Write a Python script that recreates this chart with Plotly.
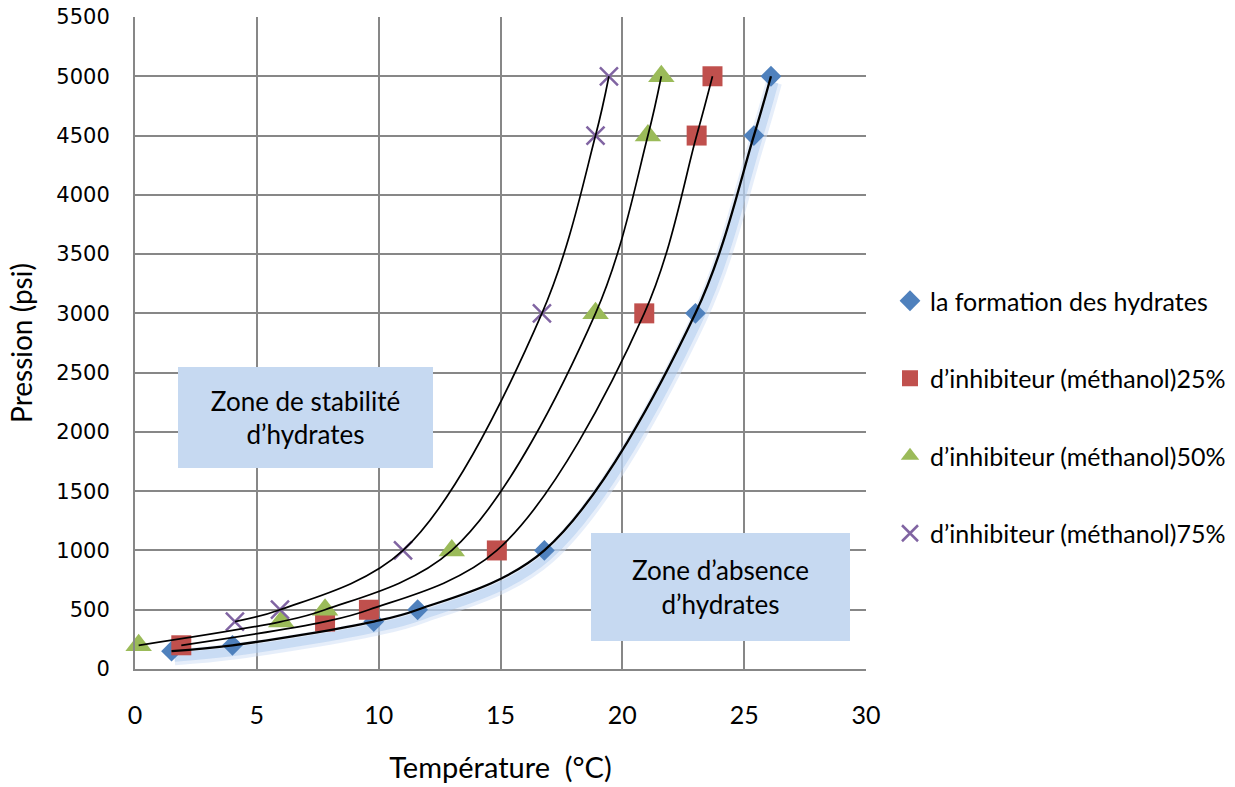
import plotly.graph_objects as go

# Data (Température °C, Pression psi)
t_formation = [1.5, 4.0, 9.8, 11.6, 16.8, 23.0, 25.4, 26.1]
p_formation = [150, 200, 400, 500, 1000, 3000, 4500, 5000]

t_m25 = [1.9, 7.8, 9.6, 14.85, 20.9, 23.05, 23.7]
p_m25 = [200, 400, 500, 1000, 3000, 4500, 5000]

t_m50 = [0.15, 6.0, 7.8, 13.0, 18.9, 21.05, 21.6]
p_m50 = [200, 400, 500, 1000, 3000, 4500, 5000]

t_m75 = [4.1, 5.95, 11.0, 16.7, 18.9, 19.45]
p_m75 = [400, 500, 1000, 3000, 4500, 5000]

names = ["la formation des hydrates",
         "d\u2019inhibiteur (méthanol)25%",
         "d\u2019inhibiteur (méthanol)50%",
         "d\u2019inhibiteur (méthanol)75%"]

x_ticks = [0, 5, 10, 15, 20, 25, 30]
y_ticks = list(range(0, 5501, 500))

X_RANGE = [0, 30]
Y_RANGE = [0, 5500]

series = [
    (t_formation, p_formation, "#4f81bd", "diamond", 16),
    (t_m25, p_m25, "#c0504d", "square", 20),
    (t_m50, p_m50, "#9bbb59", "triangle-up", 23),
    (t_m75, p_m75, "#8064a2", "x-thin", 18),
]

# target plot area in screen pixels: x 135..866, y 17..669 (page body margin removed below)
PX0, PX1, PY0, PY1 = 135, 866, 17, 669
W, H = 1235, 787
L, T = PX0, PY0
R, B = W - PX1, H - PY1
pw, ph = PX1 - PX0, PY1 - PY0


def px_x(x):
    return (x - PX0) / pw


def px_y(y):
    return (PY1 - y) / ph


fig = go.Figure()

# invisible trace so the base (grid) subplot exists
fig.add_trace(go.Scatter(x=t_formation, y=p_formation, mode="lines", opacity=0,
                         line=dict(width=0), showlegend=False, hoverinfo="skip"))

# soft shadow/glow below the hydrate-formation curve (drawn on a slightly shifted overlay)
sx = 3 * (X_RANGE[1] - X_RANGE[0]) / pw
sy = 6 * (Y_RANGE[1] - Y_RANGE[0]) / ph
for w, c in [(16, "rgba(205,222,245,0.5)"), (9, "rgba(172,201,238,0.5)")]:
    fig.add_trace(go.Scatter(x=t_formation, y=p_formation, mode="lines", xaxis="x2", yaxis="y2",
                             line=dict(color=c, width=w, shape="spline"),
                             showlegend=False, hoverinfo="skip"))

for i, (xs, ys, col, sym, sz) in enumerate(series):
    if sym == "x-thin":
        marker = dict(symbol=sym, size=sz, color=col, line=dict(color=col, width=2.5))
    else:
        marker = dict(symbol=sym, size=sz, color=col, line=dict(width=0))
    fig.add_trace(go.Scatter(x=xs, y=ys, mode="markers", name=names[i], xaxis="x3", yaxis="y3",
                             marker=marker, legendgroup=f"g{i}", cliponaxis=False))

for i, (xs, ys, col, sym, sz) in enumerate(series):
    fig.add_trace(go.Scatter(x=xs, y=ys, mode="lines", xaxis="x3", yaxis="y3",
                             line=dict(color="black", width=2.3 if i == 0 else 1.7,
                                       shape="spline", smoothing=1.0),
                             showlegend=False, hoverinfo="skip"))

grid = "#878787"
narrow = "Lato, Open Sans, sans-serif"

fig.update_layout(
    xaxis=dict(range=X_RANGE, tickvals=x_ticks, ticktext=[str(v) for v in x_ticks],
               showgrid=True, gridcolor=grid, gridwidth=2, automargin=False,
               showline=True, linecolor=grid, linewidth=2, zeroline=False,
               ticklabeloverflow="allow",
               tickfont=dict(family=narrow, size=25, color="black"),
               ticklabelstandoff=23,
               title=dict(text="Température  (°C)", font=dict(family=narrow, size=29, color="black"),
                          standoff=30)),
    yaxis=dict(range=Y_RANGE, tickvals=y_ticks, ticktext=[str(v) for v in y_ticks],
               showgrid=True, gridcolor=grid, gridwidth=2, automargin=False,
               showline=True, linecolor=grid, linewidth=2, zeroline=False,
               ticklabeloverflow="allow",
               tickfont=dict(family="DejaVu Sans, Verdana, sans-serif", size=21, color="black"),
               ticklabelstandoff=19,
               title=dict(text="Pression (psi)", font=dict(family=narrow, size=28, color="black"),
                          standoff=16)),
    xaxis2=dict(overlaying="x", anchor="y2", range=[X_RANGE[0] - sx, X_RANGE[1] - sx], visible=False),
    yaxis2=dict(overlaying="y", anchor="x2", range=[Y_RANGE[0] + sy, Y_RANGE[1] + sy], visible=False),
    xaxis3=dict(overlaying="x", anchor="y3", range=X_RANGE, visible=False),
    yaxis3=dict(overlaying="y", anchor="x3", range=Y_RANGE, visible=False),
)

box_col = "#c6d9f1"
fig.add_annotation(xref="paper", yref="paper", x=px_x(305.5), y=px_y(417.5),
                   xanchor="center", yanchor="middle",
                   text="Zone de stabilité<br>d\u2019hydrates", showarrow=False,
                   bgcolor=box_col, width=251, height=97, borderpad=1, borderwidth=1,
                   bordercolor=box_col,
                   font=dict(family=narrow, size=26, color="black"), align="center")
fig.add_annotation(xref="paper", yref="paper", x=px_x(720.5), y=px_y(587),
                   xanchor="center", yanchor="middle",
                   text="Zone d\u2019absence<br>d\u2019hydrates", showarrow=False,
                   bgcolor=box_col, width=255, height=104, borderpad=1, borderwidth=1,
                   bordercolor=box_col,
                   font=dict(family=narrow, size=26, color="black"), align="center")

fig.update_layout(
    width=W, height=H,
    margin=dict(l=L, r=R, t=T, b=B, autoexpand=False),
    plot_bgcolor="white", paper_bgcolor="white",
    legend=dict(x=px_x(890), xanchor="left", y=px_y(278), yanchor="top",
                traceorder="grouped", tracegroupgap=42,
                font=dict(family=narrow, size=25, color="black"),
                itemwidth=30, bgcolor="rgba(0,0,0,0)"),
    showlegend=True,
)

fig.write_html("out.html", config={"displayModeBar": False},
               post_script="document.body.style.margin='0';document.body.style.overflow='hidden';")
